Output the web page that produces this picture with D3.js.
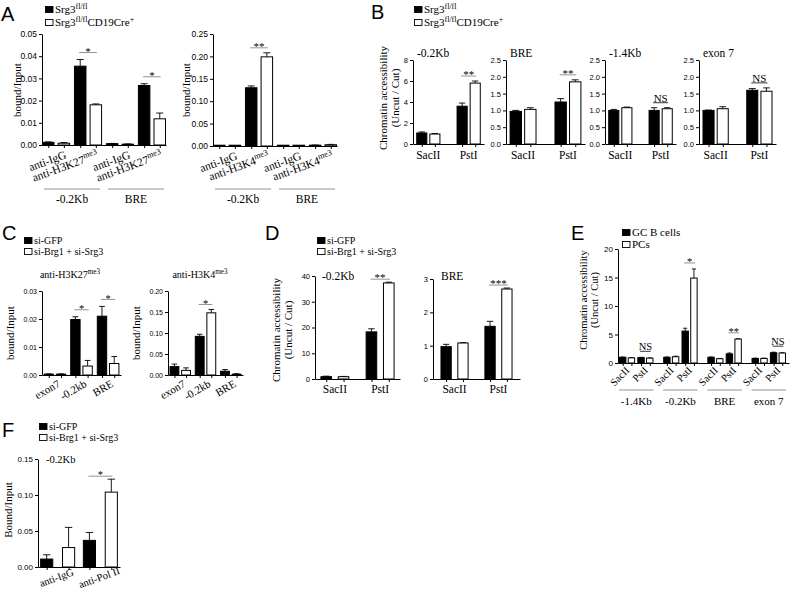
<!DOCTYPE html>
<html><head><meta charset="utf-8">
<script src="https://cdn.jsdelivr.net/npm/d3@7"></script>
<style>body{margin:0;background:#fff}</style>
</head><body><svg id="c" width="793" height="590"></svg>
<script>
// ---------------- DATA ----------------
// Panel A (left: H3K27me3 ChIP, right: H3K4me3 ChIP)
const aLegend = ["Srg3^fl/fl", "Srg3^fl/fl^CD19Cre^+"];
const aRegions = ["-0.2Kb", "BRE"];
const a1Labels = ["anti-IgG", "anti-H3K27^me3", "anti-IgG", "anti-H3K27^me3"];
const a1Black = [0.0012, 0.0355, 0.0006, 0.0268];
const a1BlackErr = [0.0002, 0.003, 0.0001, 0.0008];
const a1White = [0.0008, 0.0181, 0.0003, 0.0118];
const a1WhiteErr = [0.0003, 0.0004, 0.0002, 0.0026];
const a1Ticks = [0, 0.01, 0.02, 0.03, 0.04, 0.05];
const a1Sig = [null, "*", null, "*"];

const a2Labels = ["anti-IgG", "anti-H3K4^me3", "anti-IgG", "anti-H3K4^me3"];
const a2Black = [0.0004, 0.130, 0.0003, 0.0018];
const a2BlackErr = [0, 0.004, 0, 0.0004];
const a2White = [0.0003, 0.199, 0.0003, 0.0028];
const a2WhiteErr = [0, 0.009, 0, 0.0008];
const a2Ticks = [0, 0.05, 0.10, 0.15, 0.20, 0.25];
const a2Sig = [null, "**", null, null];

// Panel B (chromatin accessibility)
const bLegend = ["Srg3^fl/fl", "Srg3^fl/fl^CD19Cre^+"];
const bEnzymes = ["SacII", "PstI"];
const bTitles = ["-0.2Kb", "BRE", "-1.4Kb", "exon 7"];
const b1Black = [1.05, 3.6], b1BlackErr = [0.1, 0.3];
const b1White = [0.95, 5.8], b1WhiteErr = [0.05, 0.2];
const b1Ticks = [0, 2, 4, 6, 8];
const b2Black = [0.97, 1.25], b2BlackErr = [0.03, 0.1];
const b2White = [1.03, 1.85], b2WhiteErr = [0.05, 0.06];
const b3Black = [1.0, 1.0], b3BlackErr = [0.03, 0.08];
const b3White = [1.08, 1.05], b3WhiteErr = [0.02, 0.03];
const b4Black = [1.0, 1.6], b4BlackErr = [0.01, 0.05];
const b4White = [1.05, 1.57], b4WhiteErr = [0.06, 0.1];
const bSmallTicks = [0, 0.5, 1.0, 1.5, 2.0, 2.5];
const b1Sig = [null, "**"], b2Sig = [null, "**"], b3Sig = [null, "NS"], b4Sig = [null, "NS"];

// Panel C (ChIP after knockdown)
const cLegend = ["si-GFP", "si-Brg1 + si-Srg3"];
const cTitles = ["anti-H3K27^me3", "anti-H3K4^me3"];
const cLabels = ["exon7", "-0.2kb", "BRE"];
const c1Black = [0.0003, 0.0198, 0.0210], c1BlackErr = [0.0001, 0.001, 0.0035];
const c1White = [0.0003, 0.0032, 0.0041], c1WhiteErr = [0.0001, 0.002, 0.0025];
const c1Ticks = [0, 0.01, 0.02, 0.03];
const c1Sig = [null, "*", "*"];
const c2Black = [0.020, 0.092, 0.009], c2BlackErr = [0.006, 0.005, 0.004];
const c2White = [0.011, 0.148, 0.002], c2WhiteErr = [0.006, 0.008, 0.001];
const c2Ticks = [0, 0.05, 0.10, 0.15, 0.20];
const c2Sig = [null, "*", null];

// Panel D
const dLegend = ["si-GFP", "si-Brg1 + si-Srg3"];
const dTitles = ["-0.2Kb", "BRE"];
const dEnzymes = ["SacII", "PstI"];
const d1Black = [0.9, 18.3], d1BlackErr = [0.2, 1.2];
const d1White = [0.9, 37.3], d1WhiteErr = [0.1, 0.3];
const d1Ticks = [0, 10, 20, 30, 40];
const d1Sig = [null, "**"];
const d2Black = [0.97, 1.58], d2BlackErr = [0.07, 0.15];
const d2White = [1.08, 2.70], d2WhiteErr = [0.01, 0.03];
const d2Ticks = [0, 1, 2, 3];
const d2Sig = [null, "***"];

// Panel E
const eLegend = ["GC B cells", "PCs"];
const eRegions = ["-1.4Kb", "-0.2Kb", "BRE", "exon 7"];
const eEnzymes = ["SacII", "PstI"];
const eBlack = [1.0, 0.95, 1.0, 5.6, 1.0, 1.6, 0.8, 1.8];
const eBlackErr = [0.05, 0.05, 0.05, 0.5, 0.05, 0.15, 0.05, 0.1];
const eWhite = [0.9, 0.85, 1.1, 14.9, 0.75, 4.2, 0.8, 1.75];
const eWhiteErr = [0.05, 0.05, 0.1, 1.6, 0.05, 0.05, 0.05, 0.05];
const eTicks = [0, 5, 10, 15, 20];
const eSig = [null, "NS", null, "*", null, "**", null, "NS"];

// Panel F
const fLegend = ["si-GFP", "si-Brg1 + si-Srg3"];
const fLabels = ["anti-IgG", "anti-Pol II"];
const fBlack = [0.011, 0.037], fBlackErr = [0.006, 0.011];
const fWhite = [0.027, 0.104], fWhiteErr = [0.028, 0.018];
const fTicks = [0, 0.05, 0.10, 0.15];
const fSig = [null, "*"];

// ---------------- DRAWING ----------------
const SERIF = "'Liberation Serif','Times New Roman',Times,serif";
const SANS = "'Liberation Sans',Arial,Helvetica,sans-serif";
const svg = d3.select("#c");
svg.append("rect").attr("width", 793).attr("height", 590).attr("fill", "#fff");

function rich(sel, str, size) {
  const parts = str.split("^");
  parts.forEach((p, i) => {
    const t = sel.append("tspan").text(p);
    if (i % 2 === 1) t.attr("font-size", size * 0.72).attr("dy", -size * 0.4);
    else if (i > 0) t.attr("dy", size * 0.4);
  });
}

function pairsBand(n, range, pI, pO) {
  const s = d3.scaleBand().domain(d3.range(n)).range(range).paddingInner(pI).paddingOuter(pO);
  return d3.range(n).map(i => ({ x: s(i), w: s.bandwidth() }));
}

function makePanel(o) {
  const g = svg.append("g");
  const y = d3.scaleLinear().domain([0, o.max]).range([o.y0, o.y1]);
  const yAx = g.append("g").attr("transform", `translate(${o.x0},0)`)
    .call(d3.axisLeft(y).tickValues(o.ticks).tickFormat(d3.format(o.fmt)).tickSize(3).tickSizeOuter(0).tickPadding(2));
  yAx.select(".domain").attr("stroke", "#000");
  yAx.selectAll(".tick line").attr("stroke", "#000");
  yAx.selectAll("text").attr("font-family", SANS).attr("font-size", o.tickFont || 8).attr("fill", "#000");
  const bars = [];
  o.pairs.forEach((p, i) => {
    const s = d3.scaleBand().domain(["b", "w"]).range([p.x, p.x + p.w]).paddingInner(o.pairPad);
    bars.push({ k: "b", i, x: s("b"), w: s.bandwidth(), v: o.black[i], e: o.blackErr[i] });
    bars.push({ k: "w", i, x: s("w"), w: s.bandwidth(), v: o.white[i], e: o.whiteErr[i] });
  });
  g.append("g").selectAll("path").data(bars.filter(d => d.e > 0)).join("path")
    .attr("d", d => {
      const cx = d.x + d.w / 2, t = y(d.v + d.e), cw = Math.max(1.5, d.w * 0.28);
      return `M${cx},${y(d.v)}V${t}M${cx - cw},${t}H${cx + cw}`;
    })
    .attr("stroke", "#000").attr("stroke-width", 0.9).attr("fill", "none");
  g.append("g").selectAll("rect").data(bars).join("rect")
    .attr("x", d => d.x + 0.5).attr("y", d => Math.min(y(d.v), o.y0 - 0.8))
    .attr("width", d => Math.max(0, d.w - 1))
    .attr("height", d => Math.max(0.8, o.y0 - y(d.v)))
    .attr("fill", d => d.k === "b" ? "#000" : "#fff").attr("stroke", "#000").attr("stroke-width", 1);
  const xs = d3.scaleLinear().domain([o.x0, o.x1]).range([o.x0, o.x1]);
  g.append("g").attr("transform", `translate(0,${o.y0})`)
    .call(d3.axisBottom(xs).tickValues(bars.map(d => d.x + d.w / 2)).tickFormat("").tickSize(3).tickSizeOuter(0))
    .call(a => a.selectAll("path,line").attr("stroke", "#000"));
  return { g, y, bars, o };
}

function sigMarks(P, sigs, off, size) {
  sigs.forEach((label, i) => {
    if (!label) return;
    const b = P.bars[2 * i], w = P.bars[2 * i + 1];
    const top = Math.max(b.v + b.e, w.v + w.e);
    const ly = P.y(top) - off;
    const x1 = b.x + b.w / 2 - 1, x2 = w.x + w.w / 2 + 1;
    const ns = label === "NS";
    P.g.append("line").attr("x1", x1).attr("x2", x2).attr("y1", ly).attr("y2", ly)
      .attr("stroke", ns ? "#000" : "#777").attr("stroke-width", 0.8);
    P.g.append("text").attr("x", (x1 + x2) / 2).attr("y", ns ? ly - 1.2 : ly + size * 0.2)
      .attr("text-anchor", "middle").attr("font-family", SERIF).attr("font-size", size).text(label);
  });
}

function rotLabels(P, labels, dx, dy, angle, anchor, size) {
  P.g.append("g").selectAll("text").data(P.o.pairs).join("text")
    .attr("transform", d => `translate(${d.x + d.w / 2 + dx},${P.o.y0 + dy}) rotate(${angle})`)
    .attr("text-anchor", anchor).attr("font-family", SERIF).attr("font-size", size)
    .each(function (d, i) { rich(d3.select(this), labels[i], size); });
}

function catLabels(P, labels, dy, size) {
  P.g.append("g").selectAll("text").data(P.o.pairs).join("text")
    .attr("x", d => d.x + d.w / 2).attr("y", P.o.y0 + dy)
    .attr("text-anchor", "middle").attr("font-family", SERIF).attr("font-size", size)
    .text((d, i) => labels[i]);
}

function regionLines(P, regions, per, ly, ty, inset, size) {
  regions.forEach((r, k) => {
    const a = P.o.pairs[k * per], b = P.o.pairs[k * per + per - 1];
    const x1 = a.x + inset, x2 = b.x + b.w - inset;
    P.g.append("line").attr("x1", x1).attr("x2", x2).attr("y1", ly).attr("y2", ly).attr("stroke", "#777").attr("stroke-width", 0.8);
    P.g.append("text").attr("x", (x1 + x2) / 2).attr("y", ty).attr("text-anchor", "middle")
      .attr("font-family", SERIF).attr("font-size", size).text(r);
  });
}

function yTitle(lines, x, cy, size, gap) {
  lines.forEach((l, i) => {
    svg.append("text").attr("transform", `translate(${x + i * gap},${cy}) rotate(-90)`)
      .attr("text-anchor", "middle").attr("font-family", SERIF).attr("font-size", size).text(l);
  });
}

function title(str, x, y, size, anchor) {
  const t = svg.append("text").attr("x", x).attr("y", y).attr("font-family", SERIF)
    .attr("font-size", size).attr("text-anchor", anchor || "start");
  rich(t, str, size);
}

function legend(items, x, y, dy, size) {
  items.forEach((it, i) => {
    svg.append("rect").attr("x", x + 0.5).attr("y", y + i * dy - 6.5).attr("width", 7.5).attr("height", 6)
      .attr("fill", i === 0 ? "#000" : "#fff").attr("stroke", "#000").attr("stroke-width", 0.9);
    const t = svg.append("text").attr("x", x + 10).attr("y", y + i * dy).attr("font-family", SERIF).attr("font-size", size);
    rich(t, it, size);
  });
}

function letter(l, x, y) {
  svg.append("text").attr("x", x).attr("y", y).attr("font-family", SANS).attr("font-size", 20).text(l);
}

// ----- Panel A -----
letter("A", 1, 21);
legend(aLegend, 45, 13, 13, 11);
const A1 = makePanel({ x0: 42, x1: 166, y0: 145, y1: 34, max: 0.05, ticks: a1Ticks, fmt: ".2f", tickFont: 8.5,
  pairs: pairsBand(4, [42, 166], 0.12, 0), pairPad: 0.2, black: a1Black, blackErr: a1BlackErr, white: a1White, whiteErr: a1WhiteErr });
sigMarks(A1, a1Sig, 7, 11);
rotLabels(A1, a1Labels, 11, 13, -20, "end", 11.5);
regionLines(A1, aRegions, 2, 189, 203, 2, 11.5);
yTitle(["bound/Input"], 21, 90, 11, 0);

const A2 = makePanel({ x0: 213, x1: 337, y0: 146, y1: 34, max: 0.25, ticks: a2Ticks, fmt: ".2f", tickFont: 8.5,
  pairs: pairsBand(4, [213, 337], 0.12, 0), pairPad: 0.2, black: a2Black, blackErr: a2BlackErr, white: a2White, whiteErr: a2WhiteErr });
sigMarks(A2, a2Sig, 5, 11);
rotLabels(A2, a2Labels, 11, 13, -20, "end", 11.5);
regionLines(A2, aRegions, 2, 189, 203, 2, 11.5);
yTitle(["bound/Input"], 190, 90, 11, 0);

// ----- Panel B -----
letter("B", 371, 19);
legend(bLegend, 414, 13, 13, 11);
yTitle(["Chromatin accessibility", "(Uncut / Cut)"], 387, 98, 11, 12);
const bCfg = [
  [[413, 484], b1Black, b1BlackErr, b1White, b1WhiteErr, 8, b1Ticks, "d", b1Sig],
  [[506, 585], b2Black, b2BlackErr, b2White, b2WhiteErr, 2.5, bSmallTicks, ".1f", b2Sig],
  [[605, 676], b3Black, b3BlackErr, b3White, b3WhiteErr, 2.5, bSmallTicks, ".1f", b3Sig],
  [[699, 776], b4Black, b4BlackErr, b4White, b4WhiteErr, 2.5, bSmallTicks, ".1f", b4Sig]
];
bCfg.forEach((c, k) => {
  const P = makePanel({ x0: c[0][0], x1: c[0][1], y0: 144, y1: 60, max: c[5], ticks: c[6], fmt: c[7], tickFont: 7.5,
    pairs: pairsBand(2, c[0], 0.4, 0.08), pairPad: 0.15, black: c[1], blackErr: c[2], white: c[3], whiteErr: c[4] });
  sigMarks(P, c[8], 5, 11);
  catLabels(P, bEnzymes, 15, 11.5);
  title(bTitles[k], c[0][0] + 4, 57, 11.5);
});

// ----- Panel C -----
letter("C", 2, 240);
legend(cLegend, 24, 244, 11, 10);
title(cTitles[0], 70, 278, 10, "middle");
title(cTitles[1], 200, 278, 10, "middle");
const C1 = makePanel({ x0: 42, x1: 121, y0: 375, y1: 291, max: 0.03, ticks: c1Ticks, fmt: ".2f", tickFont: 7,
  pairs: pairsBand(3, [42, 121], 0.15, 0.06), pairPad: 0.15, black: c1Black, blackErr: c1BlackErr, white: c1White, whiteErr: c1WhiteErr });
sigMarks(C1, c1Sig, 7, 10.5);
rotLabels(C1, cLabels, 6, 11, -30, "end", 11);
yTitle(["bound/Input"], 14, 333, 11, 0);
const C2 = makePanel({ x0: 168, x1: 243, y0: 375, y1: 291, max: 0.20, ticks: c2Ticks, fmt: ".2f", tickFont: 7,
  pairs: pairsBand(3, [168, 243], 0.15, 0.06), pairPad: 0.15, black: c2Black, blackErr: c2BlackErr, white: c2White, whiteErr: c2WhiteErr });
sigMarks(C2, c2Sig, 5, 10.5);
rotLabels(C2, cLabels, 6, 11, -30, "end", 11);
yTitle(["bound/Input"], 140, 333, 11, 0);

// ----- Panel D -----
letter("D", 265, 240);
legend(dLegend, 317, 244, 11, 10);
yTitle(["Chromatin accessibility", "(Uncut / Cut)"], 280, 330, 11, 12);
const D1 = makePanel({ x0: 315, x1: 400, y0: 379, y1: 276, max: 40, ticks: d1Ticks, fmt: "d", tickFont: 7.5,
  pairs: pairsBand(2, [315, 400], 0.36, 0.12), pairPad: 0.33, black: d1Black, blackErr: d1BlackErr, white: d1White, whiteErr: d1WhiteErr });
sigMarks(D1, d1Sig, 3, 11);
catLabels(D1, dEnzymes, 14, 11.5);
title(dTitles[0], 322, 280, 11.5);
const D2 = makePanel({ x0: 433, x1: 520, y0: 379, y1: 279, max: 3, ticks: d2Ticks, fmt: "d", tickFont: 7.5,
  pairs: pairsBand(2, [433, 520], 0.36, 0.17), pairPad: 0.33, black: d2Black, blackErr: d2BlackErr, white: d2White, whiteErr: d2WhiteErr });
sigMarks(D2, d2Sig, 3, 11);
catLabels(D2, dEnzymes, 14, 11.5);
title(dTitles[1], 441, 280, 11.5);

// ----- Panel E -----
letter("E", 571, 240);
legend(eLegend, 622, 236, 12, 11);
yTitle(["Chromatin accessibility", "(Uncut / Cut)"], 587, 300, 10.5, 11);
const eReg = d3.scaleBand().domain(eRegions).range([619, 786]).paddingInner(0.22).paddingOuter(0);
const ePairs = [];
eRegions.forEach(r => {
  const s = d3.scaleBand().domain(eEnzymes).range([eReg(r), eReg(r) + eReg.bandwidth()]).paddingInner(0.12);
  eEnzymes.forEach(en => ePairs.push({ x: s(en), w: s.bandwidth() }));
});
const E = makePanel({ x0: 618, x1: 789, y0: 363, y1: 249, max: 20, ticks: eTicks, fmt: "d", tickFont: 8,
  pairs: ePairs, pairPad: 0.15, black: eBlack, blackErr: eBlackErr, white: eWhite, whiteErr: eWhiteErr });
sigMarks(E, eSig, 6, 10.5);
rotLabels(E, eRegions.flatMap(() => eEnzymes), 3, 8, -45, "end", 10.5);
regionLines(E, eRegions, 2, 390, 405, 0, 11);

// ----- Panel F -----
letter("F", 2, 437);
legend(fLegend, 39, 430, 11, 10);
title("-0.2Kb", 46, 463, 10.5);
const F = makePanel({ x0: 38, x1: 120, y0: 567, y1: 459, max: 0.15, ticks: fTicks, fmt: ".2f", tickFont: 8,
  pairs: pairsBand(2, [38, 120], 0.18, 0.05), pairPad: 0.4, black: fBlack, blackErr: fBlackErr, white: fWhite, whiteErr: fWhiteErr });
sigMarks(F, fSig, 3, 10.5);
rotLabels(F, fLabels, 0, 14, -20, "middle", 10.5);
yTitle(["Bound/Input"], 12, 510, 11, 0);
</script></body></html>
